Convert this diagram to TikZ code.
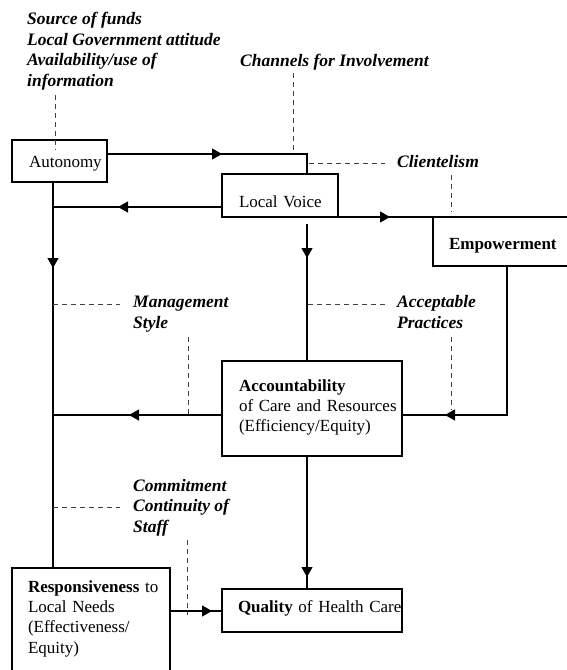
\documentclass[tikz,border=0pt]{standalone}
\usepackage{fontspec}
\setmainfont{Liberation Serif}
\usetikzlibrary{arrows.meta, decorations.markings}

\tikzset{
    box/.style={draw, line width=1.2pt, anchor=north west, inner ysep=0pt,
        outer sep=0pt, align=left, font=\fontsize{17}{20.4}\selectfont},
    geom/.style n args={4}{inner xsep=#1, text width=#2, text height=#3, text depth=#4},
    factor/.style={anchor=base west, inner sep=0pt, align=left,
        font=\fontsize{17.5}{20.4}\selectfont\bfseries\itshape},
    link/.style={line width=1.2pt},
    influence/.style={black!75, line width=0.8pt, dash pattern=on 5pt off 4pt},
    arrowat/.style={postaction={decorate}, decoration={markings,
        mark=at position #1 with {\arrow{Triangle[length=10pt, width=11pt]}}}}
}

\begin{document}
\begin{tikzpicture}[x=1pt, y=-1pt]
        \path[use as bounding box, clip] (0,0) rectangle (567,670);

        % Boxes --  --  --  --  --  --  --  --  --  --  --  --  --  --  --
        \node[box, geom={17}{61}{27}{15}] (auto) at (12,140) {Autonomy};
        \node[box, geom={17}{82}{33}{10}] (voice) at (222,174) {\mbox{Local Voice}};
        \node[box, geom={16}{108}{32}{17}] (power) at (433,217) {\textbf{Empowerment}};
        \node[box, geom={17}{146}{30}{65}] (acc) at (222,361)
            {\textbf{Accountability}\\ \mbox{of Care and Resources}\\ (Efficiency/Equity)};
        \node[box, geom={16}{126}{24}{90}] (resp) at (12,568)
            {\mbox{\textbf{Responsiveness} to}\\ Local Needs\\ (Effectiveness/\\ Equity)};
        \node[box, geom={16}{148}{23}{20}] (qual) at (222,589)
            {\mbox{\textbf{Quality} of Health Care}};
        %  --  --  --  --  --  --  --  --  --  --  --  --  --  --  --  -- 

        % Factors (placed at the baseline of their last line) --  --  --
        \node[factor] (funds) at (27,86)
            {Source of funds\\ Local Government attitude\\ Availability/use of\\ information};
        \node[factor] (channels) at (240,66) {Channels for Involvement};
        \node[factor] (client) at (397,167) {Clientelism};
        \node[factor] (mgmt) at (133,328) {Management\\ Style};
        \node[factor] (accept) at (397,328) {Acceptable\\ Practices};
        \node[factor] (commit) at (133,532) {Commitment\\ Continuity of\\ Staff};
        %  --  --  --  --  --  --  --  --  --  --  --  --  --  --  --  -- 

        % Joints
        \coordinate (j1) at (307,154);
        \coordinate (j2) at (53,207);
        \coordinate (j3) at (307,224);
        \coordinate (j4) at (507,415);
        \coordinate (j5) at (187,611);

        % Links --  --  --  --  --  --  --  --  --  --  --  --  --  --  --
        \draw[link, arrowat=115pt] (auto.east |- j1) -- (j1) -- (j1 |- voice.north);
        \draw[link, arrowat=104pt] (voice.west |- j2) -- (j2);
        \draw[link, arrowat=86pt] (j2 |- auto.south) -- (j2 |- resp.north);
        \draw[link, arrowat=34pt] (j3) -- (j3 |- acc.north);
        \draw[link, arrowat=52pt] (voice.south east) -- (power.north west);
        \draw[link, arrowat=211pt] (power.south -| j4) -- (j4) -- (acc.east |- j4);
        \draw[link, arrowat=93pt] (acc.west |- j4) -- (j2 |- j4);
        \draw[link, arrowat=121pt] (acc.south -| j1) -- (qual.north -| j1);
        \draw[link, arrowat=42pt] (resp.east |- j5) -- (qual.west |- j5);
        %  --  --  --  --  --  --  --  --  --  --  --  --  --  --  --  -- 

        % Influences  --  --  --  --  --  --  --  --  --  --  --  --  --  
        \draw[influence] (55,95) -- (55,150);
        \draw[influence] (293,73) -- (293,151);
        \draw[influence] (309,163) -- (385,163);
        \draw[influence] (451,175) -- (451,212);
        \draw[influence] (53,304) -- (120,304);
        \draw[influence] (188,337) -- (188,415);
        \draw[influence] (308,304) -- (385,304);
        \draw[influence] (451,337) -- (451,410);
        \draw[influence] (53,507) -- (120,507);
        \draw[influence] (187,540) -- (187,615);
        %  --  --  --  --  --  --  --  --  --  --  --  --  --  --  --  -- 
\end{tikzpicture}
\end{document}
